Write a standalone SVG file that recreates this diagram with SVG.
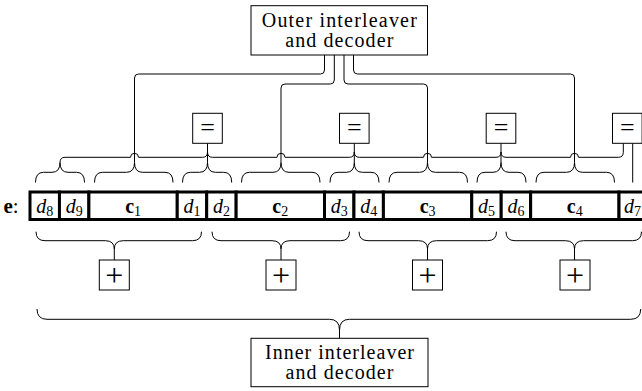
<svg xmlns="http://www.w3.org/2000/svg" width="642" height="391" viewBox="0 0 642 391">
<style>
.bx{fill:#fff;stroke:#000;stroke-width:1}
.cell{fill:#fff;stroke:#000;stroke-width:3}
.ln{fill:none;stroke:#000;stroke-width:1}
text{font-family:"Liberation Serif",serif;fill:#000}
.bt{font-size:20px;text-anchor:middle}
.lb{font-size:20px;text-anchor:middle}
.it{font-style:italic}
.bf{font-weight:bold}
.sub{font-size:14px}
.eq{font-size:26px;text-anchor:middle}
.pl{font-size:32px;text-anchor:middle}
</style>
<rect width="642" height="391" fill="#fff"/>
<g id="connectors" class="ln">
  <path d="M324.5,55 L324.5,70 Q324.5,74 320.5,74 L138.5,74 Q134.5,74 134.5,78 L134.5,162.5"/>
  <path d="M334.3,55 L334.3,80 Q334.3,84 330.3,84 L285,84 Q281,84 281,88 L281,162.5"/>
  <path d="M344,55 L344,80 Q344,84 348,84 L423.5,84 Q427.5,84 427.5,88 L427.5,162.5"/>
  <path d="M353.5,55 L353.5,70 Q353.5,74 357.5,74 L570.5,74 Q574.5,74 574.5,78 L574.5,162.5"/>
  <path d="M60,162.5 Q60,157.3 65,157.3 L130.5,157.3 A4,4 0 0 1 138.5,157.3 L202.5,157.3 Q207.5,157.3 207.5,152 Q207.5,157.3 212.5,157.3 L277,157.3 A4,4 0 0 1 285,157.3 L349.3,157.3 Q354.3,157.3 354.3,152 Q354.3,157.3 359.3,157.3 L423.5,157.3 A4,4 0 0 1 431.5,157.3 L496,157.3 Q501,157.3 501,152 Q501,157.3 506,157.3 L570.5,157.3 A4,4 0 0 1 578.5,157.3 L618.3,157.3 Q623.3,157.3 623.3,152.3 L623.3,143.3"/>
  <path d="M207.5,143.3 L207.5,162.5 M354.3,143.3 L354.3,162.5 M501,143.3 L501,162.5 M632.7,143.3 L632.7,182.5"/>
  <path d="M35.5,182.5 Q35.5,172.3 43.5,172.3 L52,172.3 Q60,172.3 60,162.5 Q60,172.3 68,172.3 L76.5,172.3 Q84.5,172.3 84.5,182.5"/>
  <path d="M94.5,182.5 Q94.5,172.3 102.5,172.3 L126.5,172.3 Q134.5,172.3 134.5,162.5 Q134.5,172.3 142.5,172.3 L165,172.3 Q173,172.3 173,182.5"/>
  <path d="M182.5,182.5 Q182.5,172.3 190.5,172.3 L199.5,172.3 Q207.5,172.3 207.5,162.5 Q207.5,172.3 215.5,172.3 L223.7,172.3 Q231.7,172.3 231.7,182.5"/>
  <path d="M241.5,182.5 Q241.5,172.3 249.5,172.3 L273,172.3 Q281,172.3 281,162.5 Q281,172.3 289,172.3 L312,172.3 Q320,172.3 320,182.5"/>
  <path d="M330,182.5 Q330,172.3 338,172.3 L346.3,172.3 Q354.3,172.3 354.3,162.5 Q354.3,172.3 362.3,172.3 L371,172.3 Q379,172.3 379,182.5"/>
  <path d="M389,182.5 Q389,172.3 397,172.3 L419.5,172.3 Q427.5,172.3 427.5,162.5 Q427.5,172.3 435.5,172.3 L459.5,172.3 Q467.5,172.3 467.5,182.5"/>
  <path d="M477,182.5 Q477,172.3 485,172.3 L493,172.3 Q501,172.3 501,162.5 Q501,172.3 509,172.3 L518,172.3 Q526,172.3 526,182.5"/>
  <path d="M536,182.5 Q536,172.3 544,172.3 L566.5,172.3 Q574.5,172.3 574.5,162.5 Q574.5,172.3 582.5,172.3 L606.5,172.3 Q614.5,172.3 614.5,182.5"/>
  <path d="M36,231.7 Q36,240.7 45,240.7 L105.3,240.7 Q114.3,240.7 114.3,249 Q114.3,240.7 123.3,240.7 L192.5,240.7 Q201.5,240.7 201.5,231.7 M114.3,249 L114.3,260"/>
  <path d="M212,231.7 Q212,240.7 221,240.7 L272,240.7 Q281,240.7 281,249 Q281,240.7 290,240.7 L340.5,240.7 Q349.5,240.7 349.5,231.7 M281,249 L281,260"/>
  <path d="M359,231.7 Q359,240.7 368,240.7 L418.5,240.7 Q427.5,240.7 427.5,249 Q427.5,240.7 436.5,240.7 L487.5,240.7 Q496.5,240.7 496.5,231.7 M427.5,249 L427.5,260"/>
  <path d="M506,231.7 Q506,240.7 515,240.7 L565.5,240.7 Q574.5,240.7 574.5,249 Q574.5,240.7 583.5,240.7 L632.5,240.7 Q641.5,240.7 641.5,231.7 M574.5,249 L574.5,260"/>
  <path d="M37,309 Q37,319.3 47,319.3 L329.5,319.3 Q339.5,319.3 339.5,330 Q339.5,319.3 349.5,319.3 L630.7,319.3 Q640.7,319.3 640.7,309 M339.5,330 L339.5,338.3"/>
</g>
<g id="outer-decoder">
  <rect class="bx" x="251" y="5.7" width="176.5" height="49.3"/>
  <text class="bt" x="339.3" y="26.8" textLength="155" lengthAdjust="spacing">Outer interleaver</text>
  <text class="bt" x="339.3" y="46.6" textLength="108" lengthAdjust="spacing">and decoder</text>
</g>
<g id="inner-decoder">
  <rect class="bx" x="251" y="338.3" width="177" height="48.4"/>
  <text class="bt" x="339.5" y="359.4" textLength="149" lengthAdjust="spacing">Inner interleaver</text>
  <text class="bt" x="339.5" y="379.2" textLength="108" lengthAdjust="spacing">and decoder</text>
</g>
<g id="eq1"><rect class="bx" x="192.7" y="113.3" width="29.6" height="30"/><text class="eq" x="207.5" y="135.6">=</text></g>
<g id="eq2"><rect class="bx" x="339.5" y="113.3" width="29.6" height="30"/><text class="eq" x="354.3" y="135.6">=</text></g>
<g id="eq3"><rect class="bx" x="486.2" y="113.3" width="29.6" height="30"/><text class="eq" x="501" y="135.6">=</text></g>
<g id="eq4"><rect class="bx" x="612.5" y="113.3" width="29.6" height="30"/><text class="eq" x="627.3" y="135.6">=</text></g>
<g id="xor1"><rect class="bx" x="99.3" y="260" width="30" height="30"/><text class="pl" x="114.3" y="286">+</text></g>
<g id="xor2"><rect class="bx" x="266" y="260" width="30" height="30"/><text class="pl" x="281" y="286">+</text></g>
<g id="xor3"><rect class="bx" x="412.5" y="260" width="30" height="30"/><text class="pl" x="427.5" y="286">+</text></g>
<g id="xor4"><rect class="bx" x="560" y="260" width="30" height="30"/><text class="pl" x="575" y="286">+</text></g>
<g id="e-label"><text class="bf" x="3.5" y="213.3" font-size="21">e<tspan font-weight="normal">:</tspan></text></g>
<g id="e-array">
  <g id="cell-d8"><rect class="cell" x="30" y="192" width="29.45" height="27.5"/><text class="lb" x="44.7" y="213.3"><tspan class="it">d</tspan><tspan class="sub" dy="3">8</tspan></text></g>
  <g id="cell-d9"><rect class="cell" x="59.45" y="192" width="29.45" height="27.5"/><text class="lb" x="74.2" y="213.3"><tspan class="it">d</tspan><tspan class="sub" dy="3">9</tspan></text></g>
  <g id="cell-c1"><rect class="cell" x="88.9" y="192" width="88.35" height="27.5"/><text class="lb" x="133.1" y="213.3"><tspan class="bf">c</tspan><tspan class="sub" dy="3">1</tspan></text></g>
  <g id="cell-d1"><rect class="cell" x="177.25" y="192" width="29.45" height="27.5"/><text class="lb" x="192" y="213.3"><tspan class="it">d</tspan><tspan class="sub" dy="3">1</tspan></text></g>
  <g id="cell-d2"><rect class="cell" x="206.7" y="192" width="29.45" height="27.5"/><text class="lb" x="221.4" y="213.3"><tspan class="it">d</tspan><tspan class="sub" dy="3">2</tspan></text></g>
  <g id="cell-c2"><rect class="cell" x="236.15" y="192" width="88.35" height="27.5"/><text class="lb" x="280.3" y="213.3"><tspan class="bf">c</tspan><tspan class="sub" dy="3">2</tspan></text></g>
  <g id="cell-d3"><rect class="cell" x="324.5" y="192" width="29.45" height="27.5"/><text class="lb" x="339.2" y="213.3"><tspan class="it">d</tspan><tspan class="sub" dy="3">3</tspan></text></g>
  <g id="cell-d4"><rect class="cell" x="353.95" y="192" width="29.45" height="27.5"/><text class="lb" x="368.7" y="213.3"><tspan class="it">d</tspan><tspan class="sub" dy="3">4</tspan></text></g>
  <g id="cell-c3"><rect class="cell" x="383.4" y="192" width="88.35" height="27.5"/><text class="lb" x="427.6" y="213.3"><tspan class="bf">c</tspan><tspan class="sub" dy="3">3</tspan></text></g>
  <g id="cell-d5"><rect class="cell" x="471.75" y="192" width="29.45" height="27.5"/><text class="lb" x="486.5" y="213.3"><tspan class="it">d</tspan><tspan class="sub" dy="3">5</tspan></text></g>
  <g id="cell-d6"><rect class="cell" x="501.2" y="192" width="29.45" height="27.5"/><text class="lb" x="515.9" y="213.3"><tspan class="it">d</tspan><tspan class="sub" dy="3">6</tspan></text></g>
  <g id="cell-c4"><rect class="cell" x="530.65" y="192" width="88.35" height="27.5"/><text class="lb" x="574.8" y="213.3"><tspan class="bf">c</tspan><tspan class="sub" dy="3">4</tspan></text></g>
  <g id="cell-d7"><rect class="cell" x="619" y="192" width="29.45" height="27.5"/><text class="lb" x="632.5" y="213.3"><tspan class="it">d</tspan><tspan class="sub" dy="3">7</tspan></text></g>
</g>
</svg>
